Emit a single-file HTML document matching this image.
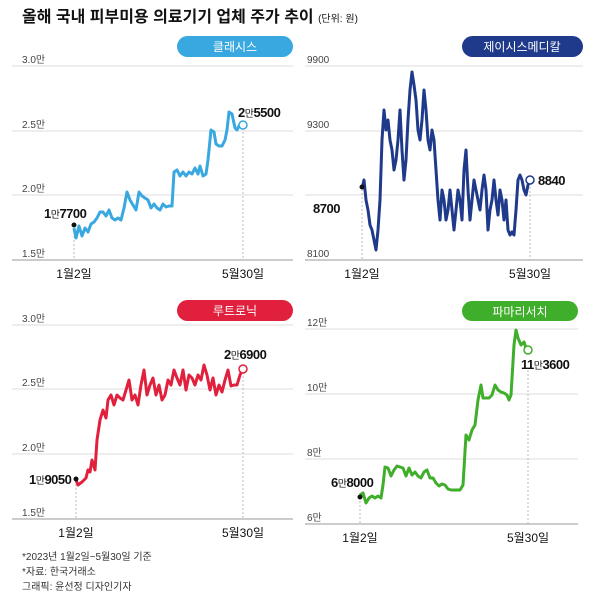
<!DOCTYPE html>
<html><head><meta charset="utf-8"><style>
body{margin:0;background:#fff}
svg{display:block}
text{font-family:"Liberation Sans","Noto Sans CJK KR",sans-serif}
</style></head><body>
<svg width="600" height="600" viewBox="0 0 600 600">
<text x="22" y="22" font-size="16" font-weight="bold" fill="#111">올해 국내 피부미용 의료기기 업체 주가 추이 <tspan font-size="10" font-weight="normal">(단위: 원)</tspan></text>

<!-- Panel 1 -->
<g stroke="#ddd" stroke-width="1">
<line x1="12" y1="66" x2="293" y2="66"/><line x1="12" y1="131" x2="293" y2="131"/><line x1="12" y1="195" x2="293" y2="195"/>
</g>
<line x1="12" y1="260" x2="293" y2="260" stroke="#999"/>
<g font-size="10" fill="#444"><text x="22" y="63">3.0만</text><text x="22" y="128">2.5만</text><text x="22" y="192">2.0만</text><text x="22" y="257">1.5만</text></g>
<rect x="177" y="36" width="116" height="21" rx="10.5" fill="#3aa8e0"/>
<text x="235" y="51" font-size="12" fill="#fff" text-anchor="middle">클래시스</text>
<line x1="74" y1="228" x2="74" y2="260" stroke="#bbb" stroke-dasharray="2,2"/>
<line x1="243" y1="128" x2="243" y2="260" stroke="#bbb" stroke-dasharray="2,2"/>
<polyline fill="none" stroke="#3aa8e0" stroke-width="3" stroke-linejoin="round" points="74,228 76,238 79,226 82,236 85,228 88,232 91,224 94,222 97,218 100,212 103,212 106,216 109,210 112,218 115,220 118,218 121,220 124,208 127,192 130,200 133,205 136,210 139,192 142,196 145,198 148,200 151,208 154,204 157,208 160,210 163,204 166,207 169,206 172,206 174,172 177,170 180,176 183,172 186,176 189,172 192,174 195,168 198,174 200,166 203,176 206,174 208,160 211,130 214,132 216,144 219,146 222,146 225,140 227,130 229,112 232,114 235,128 237,130 240,124 243,125"/>
<circle cx="74" cy="225" r="2.5" fill="#111"/>
<circle cx="243" cy="125" r="4" fill="#fff" stroke="#3aa8e0" stroke-width="1.5"/>
<text x="44" y="218" font-size="13" font-weight="bold" fill="#111" letter-spacing="-0.5">1<tspan font-size="10" font-weight="normal">만</tspan>7700</text>
<text x="238" y="117" font-size="13" font-weight="bold" fill="#111" letter-spacing="-0.5">2<tspan font-size="10" font-weight="normal">만</tspan>5500</text>
<text x="74" y="278" font-size="12" fill="#111" text-anchor="middle">1월2일</text>
<text x="243" y="278" font-size="12" fill="#111" text-anchor="middle">5월30일</text>

<!-- Panel 2 -->
<g stroke="#ddd"><line x1="305" y1="66" x2="583" y2="66"/><line x1="305" y1="131" x2="583" y2="131"/><line x1="305" y1="195" x2="583" y2="195"/></g>
<line x1="305" y1="260" x2="583" y2="260" stroke="#999"/>
<g font-size="10" fill="#444"><text x="307" y="63">9900</text><text x="307" y="128">9300</text><text x="307" y="257">8100</text></g>
<rect x="462" y="36" width="121" height="21" rx="10.5" fill="#1f3a8a"/>
<text x="522" y="51" font-size="12" fill="#fff" text-anchor="middle">제이시스메디칼</text>
<line x1="362" y1="189" x2="362" y2="260" stroke="#bbb" stroke-dasharray="2,2"/>
<line x1="530" y1="183" x2="530" y2="260" stroke="#bbb" stroke-dasharray="2,2"/>
<polyline fill="none" stroke="#1f3a8a" stroke-width="3" stroke-linejoin="round" points="362,189 364,180 366,200 368,210 370,225 372,230 374,240 376,250 378,230 380,200 382,140 384,110 386,130 388,120 390,140 392,150 394,170 396,160 398,140 400,110 402,150 404,180 406,160 408,120 410,90 412,72 414,85 416,100 418,130 420,140 422,120 424,90 426,110 428,140 430,150 432,130 434,140 436,170 438,200 440,220 442,190 444,200 446,220 448,210 450,190 452,210 454,230 456,210 458,190 460,200 462,220 464,170 466,150 468,190 470,220 472,200 474,180 476,190 478,200 480,210 482,190 484,175 486,190 488,230 490,210 492,200 494,180 496,200 498,215 500,190 502,200 504,220 506,200 508,230 510,235 512,232 514,235 516,210 518,180 520,175 522,180 524,190 526,195 528,185 530,180"/>
<circle cx="362" cy="187" r="2.5" fill="#111"/>
<circle cx="530" cy="180" r="4" fill="#fff" stroke="#1f3a8a" stroke-width="1.5"/>
<text x="313" y="213" font-size="13" font-weight="bold" fill="#111" letter-spacing="-0.5">8700</text>
<text x="538" y="185" font-size="13" font-weight="bold" fill="#111" letter-spacing="-0.5">8840</text>
<text x="362" y="278" font-size="12" fill="#111" text-anchor="middle">1월2일</text>
<text x="530" y="278" font-size="12" fill="#111" text-anchor="middle">5월30일</text>

<!-- Panel 3 -->
<g stroke="#ddd"><line x1="12" y1="325" x2="293" y2="325"/><line x1="12" y1="389" x2="293" y2="389"/><line x1="12" y1="454" x2="293" y2="454"/></g>
<line x1="12" y1="519" x2="293" y2="519" stroke="#999"/>
<g font-size="10" fill="#444"><text x="22" y="322">3.0만</text><text x="22" y="386">2.5만</text><text x="22" y="451">2.0만</text><text x="22" y="516">1.5만</text></g>
<rect x="177" y="300" width="116" height="21" rx="10.5" fill="#e0203c"/>
<text x="235" y="315" font-size="12" fill="#fff" text-anchor="middle">루트로닉</text>
<line x1="76" y1="480" x2="76" y2="519" stroke="#bbb" stroke-dasharray="2,2"/>
<line x1="243" y1="372" x2="243" y2="519" stroke="#bbb" stroke-dasharray="2,2"/>
<polyline fill="none" stroke="#e0203c" stroke-width="3" stroke-linejoin="round" points="76,480 78,485 82,482 86,478 88,470 90,472 92,460 95,470 97,440 100,420 103,410 106,418 108,400 111,395 114,405 117,395 120,398 123,400 126,390 129,380 132,400 135,395 138,405 141,385 144,370 147,395 150,385 153,378 156,395 159,385 162,400 165,395 168,380 171,385 174,370 177,378 180,385 183,370 186,390 189,375 192,378 195,385 198,375 201,380 204,365 207,375 210,390 213,378 216,395 219,385 222,392 225,380 228,370 231,386 234,385 237,385 240,375 243,369"/>
<circle cx="76" cy="479" r="2.5" fill="#111"/>
<circle cx="243" cy="369" r="4" fill="#fff" stroke="#e0203c" stroke-width="1.5"/>
<text x="29" y="484" font-size="13" font-weight="bold" fill="#111" letter-spacing="-0.5">1<tspan font-size="10" font-weight="normal">만</tspan>9050</text>
<text x="224" y="359" font-size="13" font-weight="bold" fill="#111" letter-spacing="-0.5">2<tspan font-size="10" font-weight="normal">만</tspan>6900</text>
<text x="76" y="537" font-size="12" fill="#111" text-anchor="middle">1월2일</text>
<text x="243" y="537" font-size="12" fill="#111" text-anchor="middle">5월30일</text>

<!-- Panel 4 -->
<g stroke="#ddd"><line x1="305" y1="329" x2="578" y2="329"/><line x1="305" y1="394" x2="578" y2="394"/><line x1="305" y1="459" x2="578" y2="459"/></g>
<line x1="305" y1="524" x2="578" y2="524" stroke="#999"/>
<g font-size="10" fill="#444"><text x="307" y="326">12만</text><text x="307" y="391">10만</text><text x="307" y="456">8만</text><text x="307" y="521">6만</text></g>
<rect x="462" y="301" width="116" height="20" rx="10" fill="#3fae2a"/>
<text x="520" y="316" font-size="12" fill="#fff" text-anchor="middle">파마리서치</text>
<line x1="360" y1="497" x2="360" y2="524" stroke="#bbb" stroke-dasharray="2,2"/>
<line x1="528" y1="370" x2="528" y2="524" stroke="#bbb" stroke-dasharray="2,2"/>
<polyline fill="none" stroke="#3fae2a" stroke-width="3" stroke-linejoin="round" points="360,495 363,493 366,503 369,498 372,496 375,498 378,496 381,498 383,485 385,467 388,468 391,476 394,470 397,466 400,467 403,468 406,476 409,468 412,475 415,472 418,476 421,478 424,472 427,470 430,478 433,478 436,483 439,486 442,484 445,485 448,489 451,490 454,490 457,490 460,490 463,485 466,435 469,440 472,430 475,425 478,400 481,385 483,398 486,398 489,398 492,395 495,385 498,390 501,392 504,393 507,395 509,400 511,395 514,345 516,330 518,338 521,345 524,342 526,348 528,349"/>
<circle cx="360" cy="497" r="2.5" fill="#111"/>
<circle cx="528" cy="350" r="4" fill="#fff" stroke="#3fae2a" stroke-width="1.5"/>
<text x="331" y="487" font-size="13" font-weight="bold" fill="#111" letter-spacing="-0.5">6<tspan font-size="10" font-weight="normal">만</tspan>8000</text>
<text x="521" y="369" font-size="13" font-weight="bold" fill="#111" letter-spacing="-0.5">11<tspan font-size="10" font-weight="normal">만</tspan>3600</text>
<text x="360" y="542" font-size="12" fill="#111" text-anchor="middle">1월2일</text>
<text x="528" y="542" font-size="12" fill="#111" text-anchor="middle">5월30일</text>

<g font-size="10" fill="#333">
<text x="22" y="560">*2023년 1월2일~5월30일 기준</text>
<text x="22" y="575">*자료: 한국거래소</text>
<text x="22" y="590">그래픽: 윤선정 디자인기자</text>
</g>
</svg>
</body></html>
